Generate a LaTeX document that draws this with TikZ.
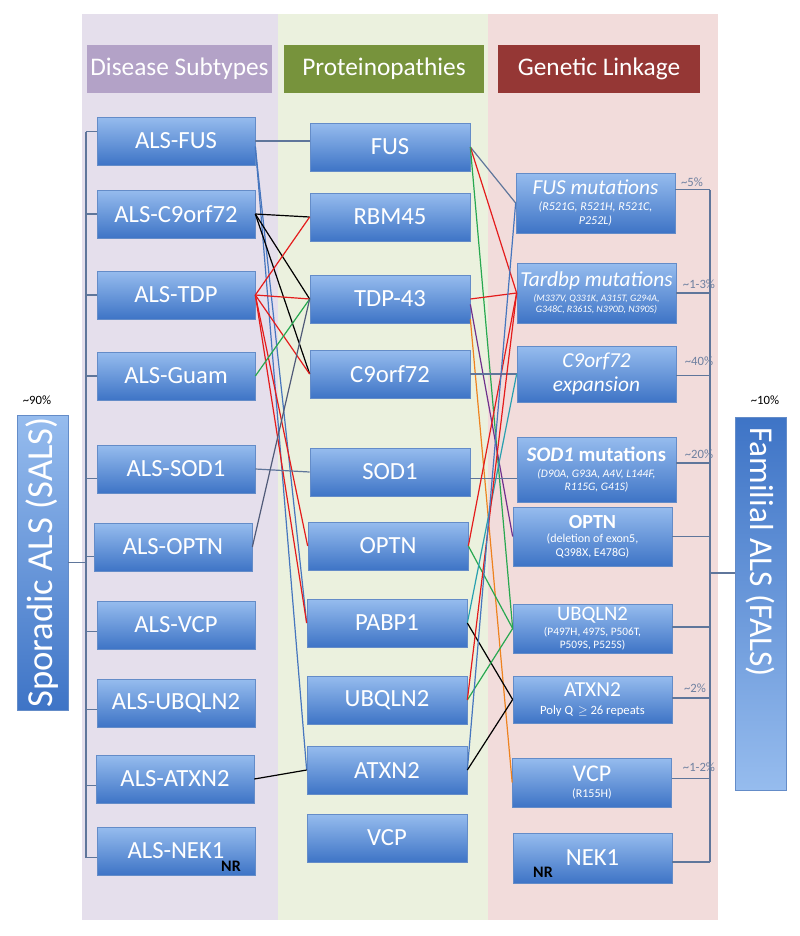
\documentclass[tikz,border=0pt]{standalone}
\usepackage{fontspec}
\setmainfont{Carlito}
\usetikzlibrary{calc}
\definecolor{panelP}{RGB}{229,223,236}
\definecolor{panelG}{RGB}{235,241,222}
\definecolor{panelR}{RGB}{242,220,219}
\definecolor{headP}{RGB}{179,162,199}
\definecolor{headG}{RGB}{119,147,60}
\definecolor{headR}{RGB}{149,55,53}
\definecolor{boxtop}{RGB}{150,188,238}
\definecolor{boxbot}{RGB}{62,116,198}
\definecolor{boxedge}{RGB}{100,140,200}
\definecolor{brkc}{RGB}{95,118,155}
\definecolor{pctc}{RGB}{110,128,160}
\definecolor{lnred}{RGB}{228,28,28}
\definecolor{lngreen}{RGB}{40,168,80}
\definecolor{lnorange}{RGB}{238,130,30}
\definecolor{lnpurple}{RGB}{112,48,140}
\definecolor{lnteal}{RGB}{40,160,175}
\definecolor{lnblue}{RGB}{70,118,190}
\definecolor{lnslate}{RGB}{80,90,120}
\begin{document}
\begin{tikzpicture}[x=0.75pt,y=-0.75pt,
  box/.style={draw=boxedge, line width=0.5pt, top color=boxtop, bottom color=boxbot,
    text=white, font=\fontsize{18.5}{21}\selectfont, inner sep=1pt, align=center},
  lbox/.style={box, minimum width=118.5pt, minimum height=36pt},
  mbox/.style={box, minimum width=120pt, minimum height=36pt},
  rbox/.style={box, minimum width=119.25pt, font=\fontsize{9}{10}\selectfont},
  head/.style={text=white, font=\fontsize{19}{21}\selectfont, minimum height=36pt, inner sep=0pt},
  brk/.style={draw=brkc, line width=1.1pt},
  con/.style={line width=0.9pt},
  cs/.style={con, draw=brkc},
  cb/.style={con, draw=lnblue},
  cr/.style={con, draw=lnred},
  cg/.style={con, draw=lngreen},
  ck/.style={con, draw=black},
  co/.style={con, draw=lnorange},
  cp/.style={con, draw=lnpurple},
  ct/.style={con, draw=lnteal},
  cd/.style={con, draw=lnslate},
  pct/.style={text=pctc, font=\fontsize{9.5}{11}\selectfont, inner sep=0pt},
  nr/.style={text=black, font=\fontsize{12}{14}\selectfont\bfseries, inner sep=0pt}
]
\useasboundingbox (0,0) rectangle (800,936);
\fill[white] (0,0) rectangle (800,936);
% panels
\fill[panelP] (82,14) rectangle (278,920);
\fill[panelG] (278,14) rectangle (488,920);
\fill[panelR] (488,14) rectangle (718,920);
% headers
\node[head, fill=headP, minimum width=138.75pt] (hP) at (179.5,69) {Disease Subtypes};
\node[head, fill=headG, minimum width=150pt] (hG) at (384,69) {Proteinopathies};
\node[head, fill=headR, minimum width=151.5pt] (hR) at (599,69) {Genetic Linkage};

% coordinates for brackets
\coordinate (lbTop) at (86,132);
\coordinate (lbBot) at (86,858);
\coordinate (rbTop) at (710,190);
\coordinate (rbBot) at (710,862);
\coordinate (rbMid) at (710,573);

% left boxes
\node[lbox] (alsfus) at (176,141) {ALS-FUS};
\node[lbox] (alsc9) at (176,214) {ALS-C9orf72};
\node[lbox] (alstdp) at (176,295) {ALS-TDP};
\node[lbox] (alsguam) at (176,376) {ALS-Guam};
\node[lbox] (alssod) at (176,469) {ALS-SOD1};
\node[lbox] (alsoptn) at (173,547) {ALS-OPTN};
\node[lbox] (alsvcp) at (176,625) {ALS-VCP};
\node[lbox] (alsubq) at (176,703) {ALS-UBQLN2};
\node[lbox] (alsatxn) at (175,779) {ALS-ATXN2};
\node[lbox] (alsnek) at (176,851) {ALS-NEK1};

% middle boxes
\node[mbox] (fus) at (390,147) {FUS};
\node[mbox] (rbm) at (390,217) {RBM45};
\node[mbox] (tdp) at (390,299) {TDP-43};
\node[mbox] (c9) at (390,374) {C9orf72};
\node[mbox] (sod) at (390,472) {SOD1};
\node[mbox] (optn) at (388,546) {OPTN};
\node[mbox] (pabp) at (387,623) {PABP1};
\node[mbox] (ubq) at (387,700) {UBQLN2};
\node[mbox] (atxn) at (387,770) {ATXN2};
\node[mbox] (vcp) at (387,838) {VCP};

% right boxes
\node[rbox, minimum height=45pt] (gfus) at (595.5,203)
  {{\fontsize{16}{18}\selectfont\itshape FUS mutations}\\[2pt]\itshape (R521G, R521H, R521C,\\\itshape P252L)};
\node[rbox, minimum height=45pt, font=\fontsize{7.4}{8.8}\selectfont] (gtdp) at (596.5,293)
  {{\fontsize{16}{18}\selectfont\itshape Tardbp mutations}\\[2pt]\itshape (M337V, Q331K, A315T, G294A,\\\itshape G348C, R361S, N390D, N390S)};
\node[rbox, minimum height=42pt, font=\fontsize{16}{18.5}\selectfont\itshape] (gc9) at (596.5,374)
  {C9orf72\\expansion};
\node[rbox, minimum height=48.75pt, font=\fontsize{8.6}{10.2}\selectfont] (gsod) at (596.5,469.5)
  {{\fontsize{15.5}{18}\selectfont\bfseries\itshape SOD1 \upshape mutations}\\[2pt]\itshape (D90A, G93A, A4V, L144F,\\\itshape R115G, G41S)};
\node[rbox, minimum height=44.25pt] (goptn) at (592.5,536.5)
  {{\fontsize{15}{16}\selectfont\bfseries OPTN}\\[1pt](deletion of exon5,\\Q398X, E478G)};
\node[rbox, minimum height=36.75pt, font=\fontsize{8.5}{9.6}\selectfont] (gubq) at (592.5,628.5)
  {{\fontsize{15.5}{16}\selectfont UBQLN2}\\[2pt](P497H, 497S, P506T,\\P509S, P525S)};
\node[rbox, minimum height=35.25pt] (gatxn) at (592.5,699.5)
  {{\fontsize{16}{17}\selectfont ATXN2}\\[3pt]{\fontsize{9.5}{11}\selectfont Poly Q\, $\geq$ 26 repeats}};
\node[rbox, minimum height=36.75pt] (gvcp) at (592,782.5)
  {{\fontsize{18}{19}\selectfont VCP}\\[2pt](R155H)};
\node[rbox, minimum height=37.5pt, font=\fontsize{18.5}{20}\selectfont] (gnek) at (592.5,858) {NEK1};
\node[nr] (nr2) at (543,872) {NR};
\node[nr] (nr1) at (231,866) {NR};

% side boxes
\node[draw=boxedge, line width=0.5pt, top color=boxtop, bottom color=boxbot, minimum width=38.25pt, minimum height=221.25pt, inner sep=0pt] (sals) at (42.5,562.5) {};
\node[rotate=90, text=white, font=\fontsize{27.5}{30}\selectfont, inner sep=0pt] (salst) at (sals.center) {Sporadic ALS (SALS)};
\node[draw=boxedge, line width=0.5pt, top color=boxbot, bottom color=boxtop, minimum width=38.25pt, minimum height=279.75pt, inner sep=0pt] (fals) at (760.5,603.5) {};
\node[rotate=-90, anchor=west, text=white, font=\fontsize{25}{28}\selectfont, inner sep=0pt] (falst) at (760.5,427) {Familial ALS (FALS)};
\node[font=\fontsize{9.5}{11}\selectfont, inner sep=0pt] (p90) at (37,400) {\textasciitilde 90\%};
\node[font=\fontsize{9.5}{11}\selectfont, inner sep=0pt] (p10) at (765,400) {\textasciitilde 10\%};

% brackets
\draw[brk] (lbTop) -- (lbBot);
\draw[brk] ([yshift=7pt]alsfus.west) -- ([yshift=7pt]alsfus.west -| lbTop);
\foreach \n/\s in {alsc9/0, alstdp/0, alsguam/0, alssod/-7, alsoptn/-7, alsvcp/-5, alsubq/-5, alsatxn/-5, alsnek/-5}
  \draw[brk] ([yshift=\s pt]\n.west) -- ([yshift=\s pt]\n.west -| lbTop);
\draw[brk] (sals.east) -- (sals.east -| lbTop);

\draw[brk] (rbTop) -- (rbBot);
\foreach \n/\s in {gfus/10, gtdp/0, gc9/-1, gsod/5, goptn/0, gubq/1, gatxn/1, gvcp/3, gnek/-3}
  \draw[brk] ([yshift=\s pt]\n.east) -- ([yshift=\s pt]\n.east -| rbTop);
\draw[brk] (rbMid) -- (rbMid -| fals.west);

% percentages
\node[pct] (q5) at (692,182) {\textasciitilde 5\%};
\node[pct] (q13) at (699,284) {\textasciitilde 1-3\%};
\node[pct] (q40) at (699,361) {\textasciitilde 40\%};
\node[pct] (q20) at (699,454) {\textasciitilde 20\%};
\node[pct] (q2) at (695,688) {\textasciitilde 2\%};
\node[pct] (q12) at (699,767) {\textasciitilde 1-2\%};

% left-gap connectors
\draw[cs] (alsfus.east) -- (alsfus.east -| fus.west);
\draw[cb] ([yshift=-4pt]alsfus.east) -- (atxn.west);
\draw[cb] ([yshift=-5pt]alsfus.east) -- (pabp.west);
\draw[ck] (alsc9.east) -- (rbm.west);
\draw[ck] (alsc9.east) -- (tdp.west);
\draw[ck] (alsc9.east) -- (c9.west);
\draw[cr] (alstdp.east) -- (rbm.west);
\draw[cr] (alstdp.east) -- (tdp.west);
\draw[cr] (alstdp.east) -- (c9.west);
\draw[cr] (alstdp.east) -- (optn.west);
\draw[cr] (alstdp.east) -- (pabp.west);
\draw[cg] (alsguam.east) -- (tdp.west);
\draw[cs] (alssod.east) -- (sod.west);
\draw[cd] (alsoptn.east) -- (tdp.west);
\draw[ck] (alsatxn.east) -- (atxn.west);

% right-gap connectors
\draw[cs] (fus.east) -- (gfus.west);
\draw[cr] (fus.east) -- (gtdp.west);
\draw[cg] (fus.east) -- (gubq.west);
\draw[cr] (tdp.east) -- (gtdp.west);
\draw[co] ([yshift=-15pt]tdp.east) -- (gvcp.west);
\draw[cp] ([yshift=-4pt]tdp.east) -- (goptn.west);
\draw[cs] (c9.east) -- (gc9.west);
\draw[cs] ([yshift=-5pt]sod.east) -- ([yshift=-5pt]sod.east -| gsod.west);
\draw[cr] (optn.east) -- (gtdp.west);
\draw[cg] (optn.east) -- (gubq.west);
\draw[ct] (pabp.east) -- (gc9.west);
\draw[ck] (pabp.east) -- (gatxn.west);
\draw[cg] (ubq.east) -- (gubq.west);
\draw[cr] (ubq.east) -- (gtdp.west);
\draw[cb] (atxn.east) -- (gfus.west);
\draw[ck] (atxn.east) -- (gatxn.west);
\end{tikzpicture}
\end{document}
